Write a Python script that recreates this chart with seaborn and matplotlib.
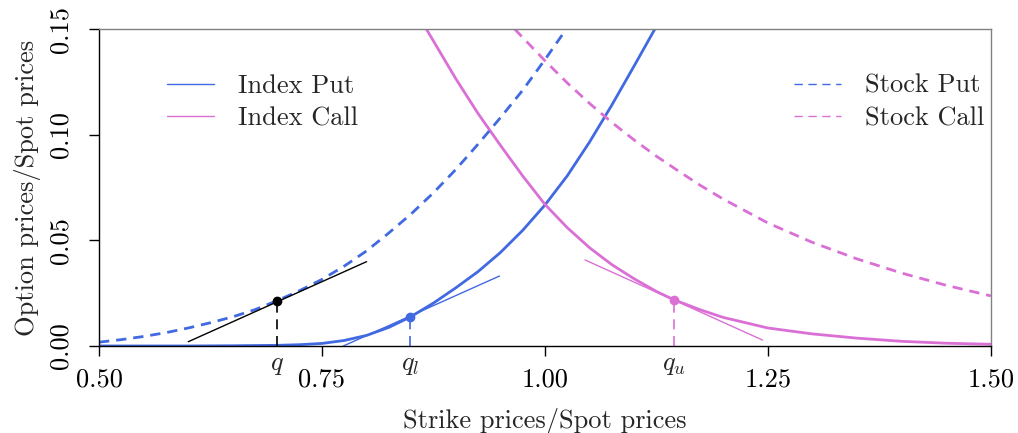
import numpy as np
import pandas as pd
import matplotlib
matplotlib.use("Agg")
import matplotlib.pyplot as plt
import seaborn as sns
from matplotlib.lines import Line2D

# curves (strike/spot, price/spot)
index_put_x = [0.50, 0.60, 0.65, 0.70, 0.725, 0.75, 0.775, 0.80, 0.825, 0.849, 0.875,
               0.90, 0.925, 0.95, 0.975, 1.00, 1.025, 1.05, 1.075, 1.10, 1.1233]
index_put_y = [0.0, 0.0, 0.0001, 0.0003, 0.0006, 0.0012, 0.0026, 0.0050, 0.0088, 0.0137, 0.0203,
               0.0275, 0.0352, 0.0442, 0.0547, 0.0667, 0.0805, 0.0965, 0.1140, 0.1325, 0.150]

index_call_x = [0.867, 0.90, 0.925, 0.95, 0.975, 1.00, 1.025, 1.05, 1.075, 1.10, 1.125,
                1.145, 1.175, 1.20, 1.25, 1.30, 1.35, 1.40, 1.45, 1.50]
index_call_y = [0.150, 0.1265, 0.110, 0.0950, 0.0805, 0.0670, 0.0560, 0.0465, 0.0385, 0.0318, 0.0258,
                0.0218, 0.0170, 0.0135, 0.0085, 0.0057, 0.0037, 0.0022, 0.0013, 0.0008]

stock_put_x = [0.50, 0.525, 0.55, 0.575, 0.60, 0.625, 0.65, 0.675, 0.70, 0.725, 0.75, 0.775,
               0.80, 0.825, 0.85, 0.875, 0.90, 0.925, 0.95, 0.975, 1.00, 1.024]
stock_put_y = [0.0018, 0.0030, 0.0045, 0.0063, 0.0085, 0.0110, 0.0138, 0.0172, 0.0215, 0.0262, 0.0315, 0.0378,
               0.0450, 0.0535, 0.0625, 0.0725, 0.0835, 0.0955, 0.1080, 0.1210, 0.1355, 0.150]

stock_call_x = [0.966, 1.00, 1.025, 1.05, 1.075, 1.10, 1.125, 1.15, 1.175, 1.20, 1.25,
                1.30, 1.35, 1.40, 1.45, 1.50]
stock_call_y = [0.150, 0.1350, 0.1245, 0.1148, 0.1058, 0.0975, 0.0898, 0.0827, 0.0758, 0.0695, 0.0582,
                0.0490, 0.0412, 0.0345, 0.0287, 0.0237]

# tangency points q, q_l, q_u and their tangent segments
q_x = [0.699, 0.849, 1.145]
q_y = [0.0215, 0.0137, 0.0218]
q_labels = ['$q$', '$q_l$', '$q_u$']
tan_x = [[0.600, 0.800], [0.774, 0.949], [1.045, 1.244]]
tan_y = [[0.0020, 0.0399], [0.0, 0.0331], [0.0407, 0.0028]]

blue = '#4169E1'
pink = '#DA70D6'
q_colors = ['black', blue, pink]

sns.set_style("ticks")
plt.rcParams['font.family'] = ['cmr10', 'DejaVu Serif']
plt.rcParams['mathtext.fontset'] = 'cm'
plt.rcParams['axes.formatter.use_mathtext'] = True
plt.rcParams['lines.dashed_pattern'] = [3.7, 2.5]
fs = 19

fig = plt.figure(figsize=(10.18, 4.33), dpi=100)
ax = fig.add_axes([0.0973, 0.201, 0.876, 0.732])

sns.lineplot(x=index_put_x, y=index_put_y, ax=ax, color=blue, lw=2)
sns.lineplot(x=index_call_x, y=index_call_y, ax=ax, color=pink, lw=2)
sns.lineplot(x=stock_put_x, y=stock_put_y, ax=ax, color=blue, lw=2, linestyle='--')
sns.lineplot(x=stock_call_x, y=stock_call_y, ax=ax, color=pink, lw=2, linestyle='--')

for tx, ty, qx, qy, c, lab in zip(tan_x, tan_y, q_x, q_y, q_colors, q_labels):
    ax.plot(tx, ty, color=c, lw=1)
    ax.plot([qx, qx], [0, qy], color=c, lw=1.2, dashes=(6, 4))
    ax.plot(qx, qy, 'o', color=c, ms=6)
    ax.annotate(lab, xy=(qx, 0), xycoords='data', xytext=(0, -5), textcoords='offset points',
                ha='center', va='top', fontsize=fs)

ax.set_xlim(0.5, 1.5)
ax.set_ylim(0, 0.15)
ax.set_xticks([0.50, 0.75, 1.00, 1.25, 1.50])
ax.set_yticks([0.00, 0.05, 0.10, 0.15])
ax.set_xticklabels(['0.50', '0.75', '1.00', '1.25', '1.50'], fontsize=fs)
ax.set_yticklabels(['0.00', '0.05', '0.10', '0.15'], fontsize=fs, rotation=90, va='center')
ax.tick_params(axis='x', length=7, width=1, pad=8.5, colors='black')
ax.tick_params(axis='y', length=7, width=1, pad=12, colors='black')
ax.set_xlabel('Strike prices/Spot prices', fontsize=fs, labelpad=12)
ax.set_ylabel('Option prices/Spot prices', fontsize=fs, labelpad=6)

for s in ['left', 'bottom']:
    ax.spines[s].set_color('black')
    ax.spines[s].set_linewidth(1)
for s in ['top', 'right']:
    ax.spines[s].set_visible(True)
    ax.spines[s].set_color('#808080')
    ax.spines[s].set_linewidth(1)

h1 = [Line2D([], [], color=blue, lw=1), Line2D([], [], color=pink, lw=1)]
h2 = [Line2D([], [], color=blue, lw=1, dashes=(6, 4)), Line2D([], [], color=pink, lw=1, dashes=(6, 4))]
leg1 = ax.legend(h1, ['Index Put', 'Index Call'], loc='upper left', bbox_to_anchor=(0.076, 0.858),
                 frameon=False, fontsize=fs, handlelength=1.8, handletextpad=0.9,
                 labelspacing=0.35, borderpad=0, borderaxespad=0)
ax.add_artist(leg1)
ax.legend(h2, ['Stock Put', 'Stock Call'], loc='upper right', bbox_to_anchor=(0.993, 0.858),
          frameon=False, fontsize=fs, handlelength=1.8, handletextpad=0.9,
          labelspacing=0.35, borderpad=0, borderaxespad=0)

fig.savefig('out.png', dpi=100)
